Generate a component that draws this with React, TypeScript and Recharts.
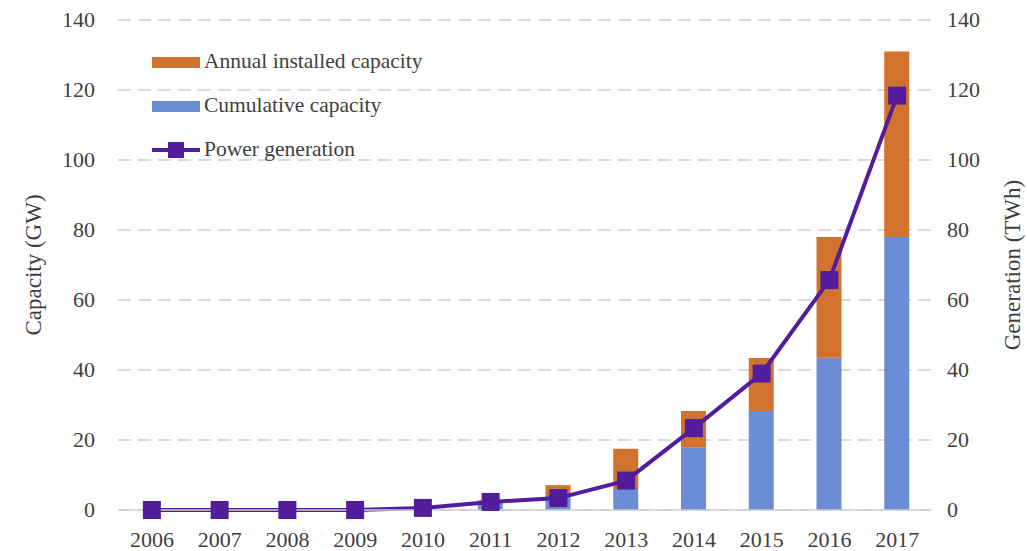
import React from 'react';
import { ComposedChart, Bar, Line, XAxis, YAxis, CartesianGrid, Label } from 'recharts';

const years = ['2006', '2007', '2008', '2009', '2010', '2011', '2012', '2013', '2014', '2015', '2016', '2017'];
const cumulativeCapacity = [0, 0, 0, 0, 0.4, 2.2, 4, 6, 17.8, 28.3, 43.5, 78];
const annualInstalled = [0, 0, 0, 0, 0.3, 0.6, 3.1, 11.5, 10.5, 15.1, 34.5, 53];
const powerGeneration = [0, 0, 0, 0, 0.6, 2.3, 3.4, 8.4, 23.4, 39, 65.7, 118.4];
const axisTicks = [0, 20, 40, 60, 80, 100, 120, 140];

const data = years.map((year, i) => ({
  year,
  cumulative: cumulativeCapacity[i],
  annual: annualInstalled[i],
  generation: powerGeneration[i],
}));

const ORANGE = '#D2722F';
const BLUE = '#6B8DD5';
const PURPLE = '#521D9C';
const TEXT = '#3f3f3f';
const FONT = '"Liberation Serif", "Times New Roman", serif';

const SquareDot = (props: any) => {
  const { cx, cy } = props;
  if (cx == null || cy == null) return null;
  return <rect x={cx - 9} y={cy - 9} width={18} height={18} fill={PURPLE} />;
};

// Tick renderers so the serif face is applied directly on each label
const XTick = (props: any) => {
  const { x, y, payload } = props;
  return (
    <text x={x} y={y + 29} textAnchor="middle" fill={TEXT} fontSize={22} fontFamily={FONT}>
      {payload.value}
    </text>
  );
};

const LeftTick = (props: any) => {
  const { x, y, payload } = props;
  return (
    <text x={x - 21} y={y + 7} textAnchor="end" fill={TEXT} fontSize={22} fontFamily={FONT}>
      {payload.value}
    </text>
  );
};

const RightTick = (props: any) => {
  const { x, y, payload } = props;
  return (
    <text x={x + 14} y={y + 7} textAnchor="start" fill={TEXT} fontSize={22} fontFamily={FONT}>
      {payload.value}
    </text>
  );
};

const legendItems = [
  { label: 'Annual installed capacity', kind: 'bar', color: ORANGE },
  { label: 'Cumulative capacity', kind: 'bar', color: BLUE },
  { label: 'Power generation', kind: 'line', color: PURPLE },
];

const LegendBox = () => (
  <div style={{ position: 'absolute', left: 150, top: 40, fontFamily: FONT, fontSize: 21.5, color: TEXT, lineHeight: 1 }}>
    {legendItems.map((item) => (
      <div key={item.label} style={{ display: 'flex', alignItems: 'center', height: 44 }}>
        <svg width={52} height={20} style={{ marginRight: 2 }}>
          {item.kind === 'bar' ? (
            <rect x={2} y={5} width={48} height={11} fill={item.color} />
          ) : (
            <g>
              <line x1={2} y1={10} x2={50} y2={10} stroke={item.color} strokeWidth={4} />
              <rect x={18} y={2} width={16} height={16} fill={item.color} />
            </g>
          )}
        </svg>
        <span>{item.label}</span>
      </div>
    ))}
  </div>
);

export default function App() {
  return (
    <div style={{ position: 'absolute', left: 0, top: 0, width: 1027, height: 551, background: '#fff', fontFamily: FONT }}>
      <ComposedChart
        width={1027}
        height={551}
        data={data}
        margin={{ top: 20, right: 0, bottom: 0, left: 0 }}
        barSize={25}
      >
        <CartesianGrid
          yAxisId="left"
          vertical={false}
          stroke="#d0d0d0"
          strokeDasharray="13 7"
          strokeWidth={1.5}
        />
        <XAxis
          dataKey="year"
          height={41}
          axisLine={{ stroke: '#cfcfcf', strokeWidth: 1.5 }}
          tickLine={false}
          tick={<XTick />}
        />
        <YAxis
          yAxisId="left"
          width={118}
          domain={[0, 140]}
          ticks={axisTicks}
          axisLine={false}
          tickLine={false}
          tickSize={0}
          tick={<LeftTick />}
        >
          <Label
            value="Capacity (GW)"
            angle={-90}
            position="insideLeft"
            offset={33}
            style={{ textAnchor: 'middle', fill: TEXT, fontSize: 23, fontFamily: FONT }}
          />
        </YAxis>
        <YAxis
          yAxisId="right"
          orientation="right"
          width={96}
          domain={[0, 140]}
          ticks={axisTicks}
          axisLine={false}
          tickLine={false}
          tickSize={0}
          tick={<RightTick />}
        >
          <Label
            value="Generation (TWh)"
            angle={-90}
            position="insideRight"
            offset={15}
            style={{ textAnchor: 'middle', fill: TEXT, fontSize: 23, fontFamily: FONT }}
          />
        </YAxis>
        <Bar yAxisId="left" dataKey="cumulative" stackId="cap" fill={BLUE} isAnimationActive={false} name="Cumulative capacity" />
        <Bar yAxisId="left" dataKey="annual" stackId="cap" fill={ORANGE} isAnimationActive={false} name="Annual installed capacity" />
        <Line
          yAxisId="right"
          dataKey="generation"
          stroke={PURPLE}
          strokeWidth={4}
          dot={<SquareDot />}
          activeDot={false}
          isAnimationActive={false}
          name="Power generation"
        />
      </ComposedChart>
      <LegendBox />
    </div>
  );
}
